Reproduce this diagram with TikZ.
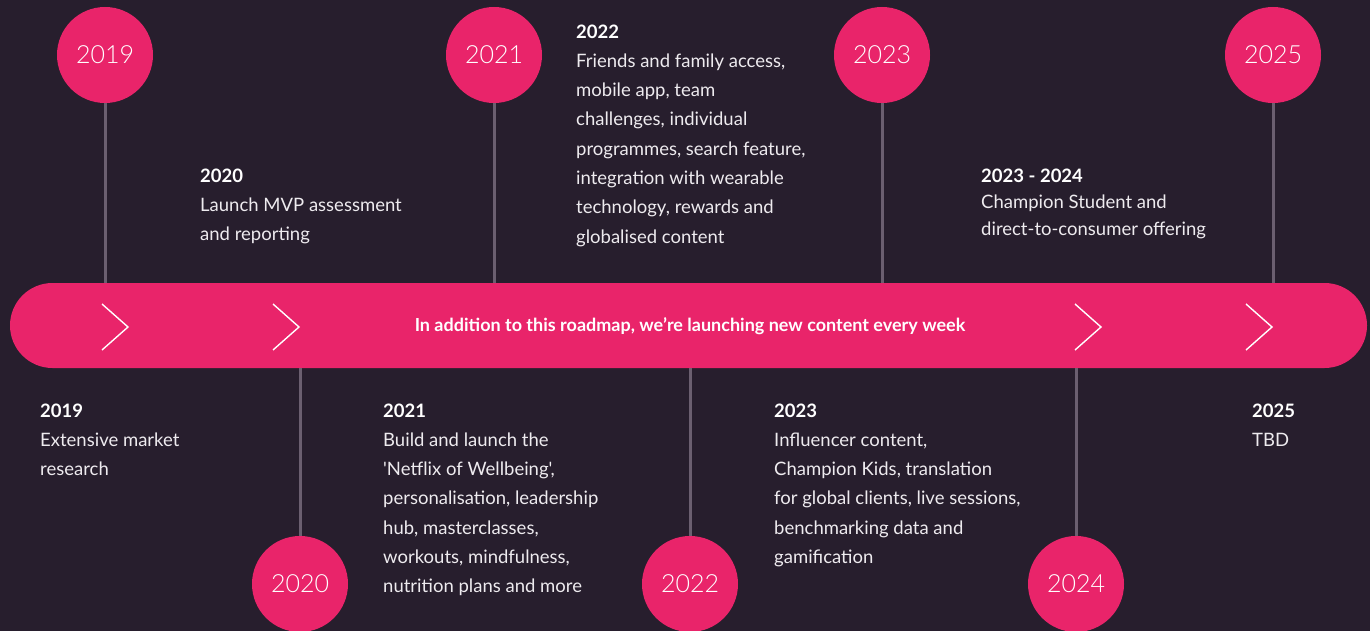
\documentclass[tikz,border=0pt]{standalone}
\usepackage{fontspec}
\setmainfont{Lato}[Ligatures=TeXOff]
\newfontfamily\yearfont{Lato Light}
\definecolor{bg}{HTML}{271E2D}
\definecolor{brandpink}{HTML}{E9246A}
\definecolor{stemgray}{HTML}{6B5F70}
\definecolor{bodytext}{HTML}{EEEBEF}
\tikzset{
  yearcirc/.style={circle, fill=brandpink, minimum size=96pt, inner sep=0pt,
    text=white, font=\yearfont\fontsize{25}{25}\selectfont},
  stemline/.style={draw=stemgray, line width=3pt},
  chevron/.style={draw=white, line width=1.4pt},
  % text blocks are placed by the baseline of their last line
  entry/.style={anchor=base west, align=left, inner sep=0pt, text=bodytext,
    font=\fontsize{18.5}{29.3}\selectfont},
  entrytight/.style={entry, font=\fontsize{18.5}{26.5}\selectfont},
}
\newcommand{\yr}[1]{{\bfseries\color{white}#1}}
\begin{document}
\begin{tikzpicture}[x=1pt,y=-1pt]
  \fill[bg] (0,0) rectangle (1370,631);
  \useasboundingbox (0,0) rectangle (1370,631);

  % main timeline bar
  \node[fill=brandpink, rounded corners=42.5pt, minimum width=1357pt,
        minimum height=85pt, inner sep=0pt] (bar) at (688.5,325.5) {};
  \node[text=white, font=\bfseries\fontsize{18}{22}\selectfont] (msg) at (690,326)
    {In addition to this roadmap, we’re launching new content every week};

  % chevrons along the bar
  \draw[chevron] (102,304) -- (128,327) -- (102,350);
  \draw[chevron] (273,304) -- (299,327) -- (273,350);
  \draw[chevron] (1075,304) -- (1101,327) -- (1075,350);
  \draw[chevron] (1246,304) -- (1272,327) -- (1246,350);

  % year markers above the bar
  \node[yearcirc] (y2019) at (105,55) {2019};
  \node[yearcirc] (y2021) at (494,55) {2021};
  \node[yearcirc] (y2023) at (882,55) {2023};
  \node[yearcirc] (y2025) at (1273,55) {2025};
  % year markers below the bar
  \node[yearcirc] (y2020) at (300,584) {2020};
  \node[yearcirc] (y2022) at (690,584) {2022};
  \node[yearcirc] (y2024) at (1076,584) {2024};

  % stems joining markers to the bar
  \foreach \m in {y2019,y2021,y2023,y2025}
    \draw[stemline] (\m.south) -- (\m.south |- bar.north);
  \foreach \m in {y2020,y2022,y2024}
    \draw[stemline] (\m.north) -- (\m.north |- bar.south);

  % milestone descriptions above the bar
  \node[entry] (t2020) at (200,240.6) {\yr{2020}\\Launch MVP assessment\\and reporting};
  \node[entry] (t2022) at (576,243.1) {\yr{2022}\\Friends and family access,\\mobile app, team\\challenges, individual\\programmes, search feature,\\integration with wearable\\technology, rewards and\\globalised content};
  \node[entrytight] (t2324) at (981,235) {\yr{2023 - 2024}\\Champion Student and\\direct-to-consumer offering};

  % milestone descriptions below the bar
  \node[entry] (t2019) at (40,475.6) {\yr{2019}\\Extensive market\\research};
  \node[entry] (t2021) at (383,592.8) {\yr{2021}\\Build and launch the\\'Netflix of Wellbeing',\\personalisation, leadership\\hub, masterclasses,\\workouts, mindfulness,\\nutrition plans and more};
  \node[entry] (t2023) at (774,563.5) {\yr{2023}\\Influencer content,\\Champion Kids, translation\\for global clients, live sessions,\\benchmarking data and\\gamification};
  \node[entry] (t2025) at (1252,446.3) {\yr{2025}\\TBD};
\end{tikzpicture}
\end{document}
